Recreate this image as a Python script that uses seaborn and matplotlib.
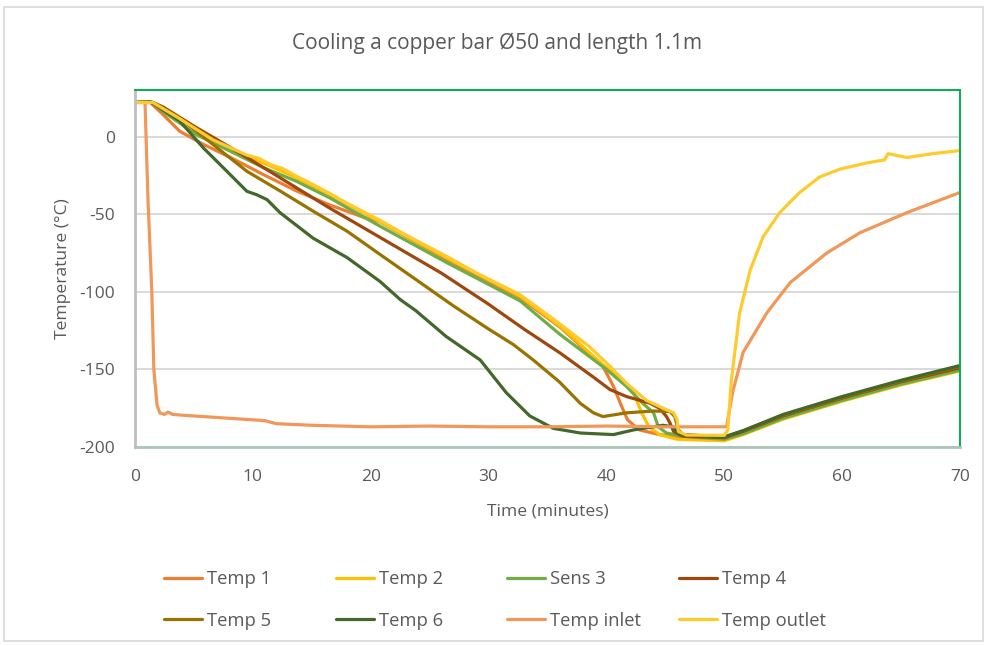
import matplotlib
matplotlib.use("Agg")
import matplotlib.pyplot as plt
import matplotlib.patches as patches
import seaborn as sns
import pandas as pd

# ---------------- data ----------------
series_names = ["Temp 1", "Temp 2", "Sens 3", "Temp 4",
                "Temp 5", "Temp 6", "Temp inlet", "Temp outlet"]
series_colors = ["#ED7D31", "#FFC000", "#70AD47", "#9E480E",
                 "#997300", "#43682B", "#F1975A", "#FFCA2C"]

t_temp1 = [0, 1.3, 2.4, 3.8, 5.8, 8.1, 10.9, 13.7, 16.5, 19.4, 20.8, 26.4, 32.7, 36.1, 39.7,
           40.6, 41.3, 41.8, 42.8, 44.5, 47, 50, 51.6, 55, 60, 65, 70]
v_temp1 = [22, 22, 14, 3.4, -5, -13.5, -24.5, -35, -44, -52, -55, -79, -104, -123, -148,
           -161, -174, -182.6, -189, -192, -194, -194.5, -190.5, -180.5, -169, -158.5, -149.5]

t_temp2 = [0, 1.5, 3.8, 6.6, 9.5, 11.5, 13.7, 16.5, 20.8, 26.4, 32.7, 36.1, 39.7,
           41.1, 42.3, 43.0, 43.6, 44.5, 46, 50, 51.6, 55, 60, 65, 70]
v_temp2 = [22, 22, 11, -3, -12.7, -19, -26.6, -37.4, -55, -78, -103, -122.4, -147,
           -154.6, -165, -178, -187, -192, -195, -196, -192, -182, -170.5, -160, -151]

t_sens3 = [0, 1.5, 2.4, 5.2, 8.1, 10.9, 13.7, 16.5, 20.8, 26.4, 31.2, 32.7, 36.1, 40,
           41.7, 43.1, 44.0, 44.4, 45.1, 46.8, 50, 51.6, 55, 60, 65, 70]
v_sens3 = [22, 22, 16, 1.3, -9.5, -20, -28.8, -39.4, -57.8, -81, -100, -106, -127.7, -150,
           -161, -172, -178, -187, -191, -193.4, -195, -191.5, -181.5, -170, -159.5, -150.5]

t_temp4 = [0, 1.5, 2.4, 5.2, 8.1, 10.9, 13.7, 16.5, 20.8, 26, 30, 33, 36.1, 38.9, 40.3,
           41.7, 43.7, 44.5, 45.1, 45.4, 45.7, 46.5, 50, 51.6, 55, 60, 65, 70]
v_temp4 = [22, 22, 19, 5.8, -7, -20, -33, -46, -65, -88, -108, -124, -139.6, -155, -163,
           -167.5, -171.8, -175, -180.4, -184.7, -190, -193, -194, -190, -180, -168.5, -158, -149]

t_temp5 = [0, 1.5, 3.8, 6.6, 9.5, 12.3, 15.1, 18, 20.8, 24, 27, 30, 32.1, 33.8, 36, 37.8,
           38.9, 39.7, 41.7, 44, 45.4, 45.8, 46.1, 46.5, 50, 51.6, 55, 60, 65, 70]
v_temp5 = [22, 22, 12, -5, -22.4, -35, -48, -61, -76, -93, -109, -124, -134, -144, -158, -172,
           -178, -180.4, -178, -176.8, -177.2, -180.4, -189, -192, -193.5, -189.5, -179.5, -168, -157.5, -148]

t_temp6 = [0, 1.3, 3.8, 5.8, 7.8, 9.5, 10.3, 11.2, 12.3, 15.1, 18, 20.8, 22.5, 23.8, 26.4,
           29.3, 31.5, 33.5, 35.5, 37.8, 40.6, 42.3, 44.8, 45.6, 46.2, 50, 51.6, 55, 60, 65, 70]
v_temp6 = [22, 22.5, 10, -7.3, -22.4, -35.3, -37.4, -40.6, -49, -65.4, -78, -93.4, -105, -112, -128.8,
           -144, -165, -180, -188, -191, -192, -189, -186, -187, -192, -193.5, -189.5, -179, -167.5, -157, -147.5]

t_inlet = [0, 0.85, 1.1, 1.42, 1.6, 1.87, 2.1, 2.5, 2.8, 3.2, 4, 6, 8, 10, 11, 12, 15, 20, 25,
           30, 35, 40, 45, 49.9, 50.2, 50.7, 51.6, 53.6, 55.6, 58.7, 61.5, 65.5, 70]
v_inlet = [22, 22, -40, -98.7, -150, -173, -178, -179, -177.5, -179, -179.5, -180.5, -181.5, -182.5, -183,
           -185, -186, -187, -186.5, -187, -187, -186.5, -187, -187, -186.9, -165, -139, -113.7, -94,
           -75, -62, -49, -36]

t_outlet = [0, 1.5, 3.8, 6.6, 9.5, 10.5, 11.5, 12.5, 13.7, 15, 16.5, 18, 20.8, 23, 26.4, 29,
            32.7, 36.1, 38.5, 40.3, 41.7, 43.4, 44.8, 45.7, 46.0, 46.1, 46.8, 50, 50.3, 50.6,
            51.3, 52.2, 53.3, 54.7, 56.4, 58.1, 59.8, 62.1, 63.6, 63.9, 65.5, 67.7, 70]
v_outlet = [22, 22, 11.5, -2, -12, -14, -18, -20.5, -25.5, -30.5, -36.5, -43, -54, -63.5, -77, -88,
            -102, -121, -135, -148, -159, -170, -175, -178, -182.6, -190, -192.3, -192.5, -189, -157,
            -113.7, -86, -64.5, -49, -36, -26, -21, -17, -15, -11, -13.5, -11, -9]

x_ticks = [0, 10, 20, 30, 40, 50, 60, 70]
y_ticks = [-200, -150, -100, -50, 0]
title_text = "Cooling a copper bar \u00d850 and length 1.1m"
x_label = "Time (minutes)"
y_label = "Temperature (\u00b0C)"

all_t = [t_temp1, t_temp2, t_sens3, t_temp4, t_temp5, t_temp6, t_inlet, t_outlet]
all_v = [v_temp1, v_temp2, v_sens3, v_temp4, v_temp5, v_temp6, v_inlet, v_outlet]

# ---------------- plotting ----------------
sns.set_theme(style="white")
plt.rcParams["font.family"] = ["Open Sans", "DejaVu Sans"]
plt.rcParams["axes.unicode_minus"] = False
text_col = "#595959"

fig = plt.figure(figsize=(9.88, 6.46), dpi=100)
ax = fig.add_axes([135 / 988, 1 - 447 / 646, (960 - 135) / 988, (447 - 90) / 646])

for name, col, tt, vv in zip(series_names, series_colors, all_t, all_v):
    df = pd.DataFrame({"t": tt, "v": vv})
    sns.lineplot(data=df, x="t", y="v", color=col, lw=2.3, ax=ax, label=name,
                 sort=False, estimator=None)

leg = ax.get_legend()
if leg is not None:
    leg.remove()

ax.set_xlim(0, 70)
ax.set_ylim(-200, 30)
ax.set_xticks(x_ticks)
ax.set_yticks(y_ticks)
ax.yaxis.grid(True, color="#D9D9D9", lw=1.4)
ax.xaxis.grid(False)
ax.set_axisbelow(True)
ax.tick_params(axis="both", length=0, labelsize=12.5, labelcolor=text_col)
ax.tick_params(axis="y", pad=14.4)
ax.tick_params(axis="x", pad=16)

for s in ["top", "right"]:
    ax.spines[s].set_color("#00B050")
    ax.spines[s].set_linewidth(1.4)
ax.spines["left"].set_color("#BFBFBF")
ax.spines["left"].set_linewidth(2)
ax.spines["bottom"].set_color("#A9C6B8")
ax.spines["bottom"].set_linewidth(2)

ax.set_xlabel(x_label, fontsize=12.6, color=text_col, labelpad=13)
ax.set_ylabel(y_label, fontsize=12.6, color=text_col, labelpad=6)

fig.text(0.5035, 1 - 43 / 646, title_text, ha="center", va="center",
         fontsize=15, color=text_col)

# legend: four columns placed like the reference
handles = ax.get_lines()[:8]
col_x = [165, 337, 508, 680]
for i, cx in enumerate(col_x):
    hs = [handles[i], handles[i + 4]]
    ls = [series_names[i], series_names[i + 4]]
    fig.legend(hs, ls, loc="upper left",
               bbox_to_anchor=(cx / 988 - 0.008, 1 - 563 / 646),
               ncol=1, frameon=False, fontsize=13.2, handlelength=2.05,
               handletextpad=0.25, labelspacing=1.28, labelcolor=text_col,
               borderaxespad=0)

# outer chart border
fig.patches.append(patches.Rectangle((4 / 988, 1 - 641 / 646), 979 / 988, 634 / 646,
                                     transform=fig.transFigure, fill=False,
                                     edgecolor="#D9D9D9", lw=1.2))

fig.savefig("out.png", dpi=100)
